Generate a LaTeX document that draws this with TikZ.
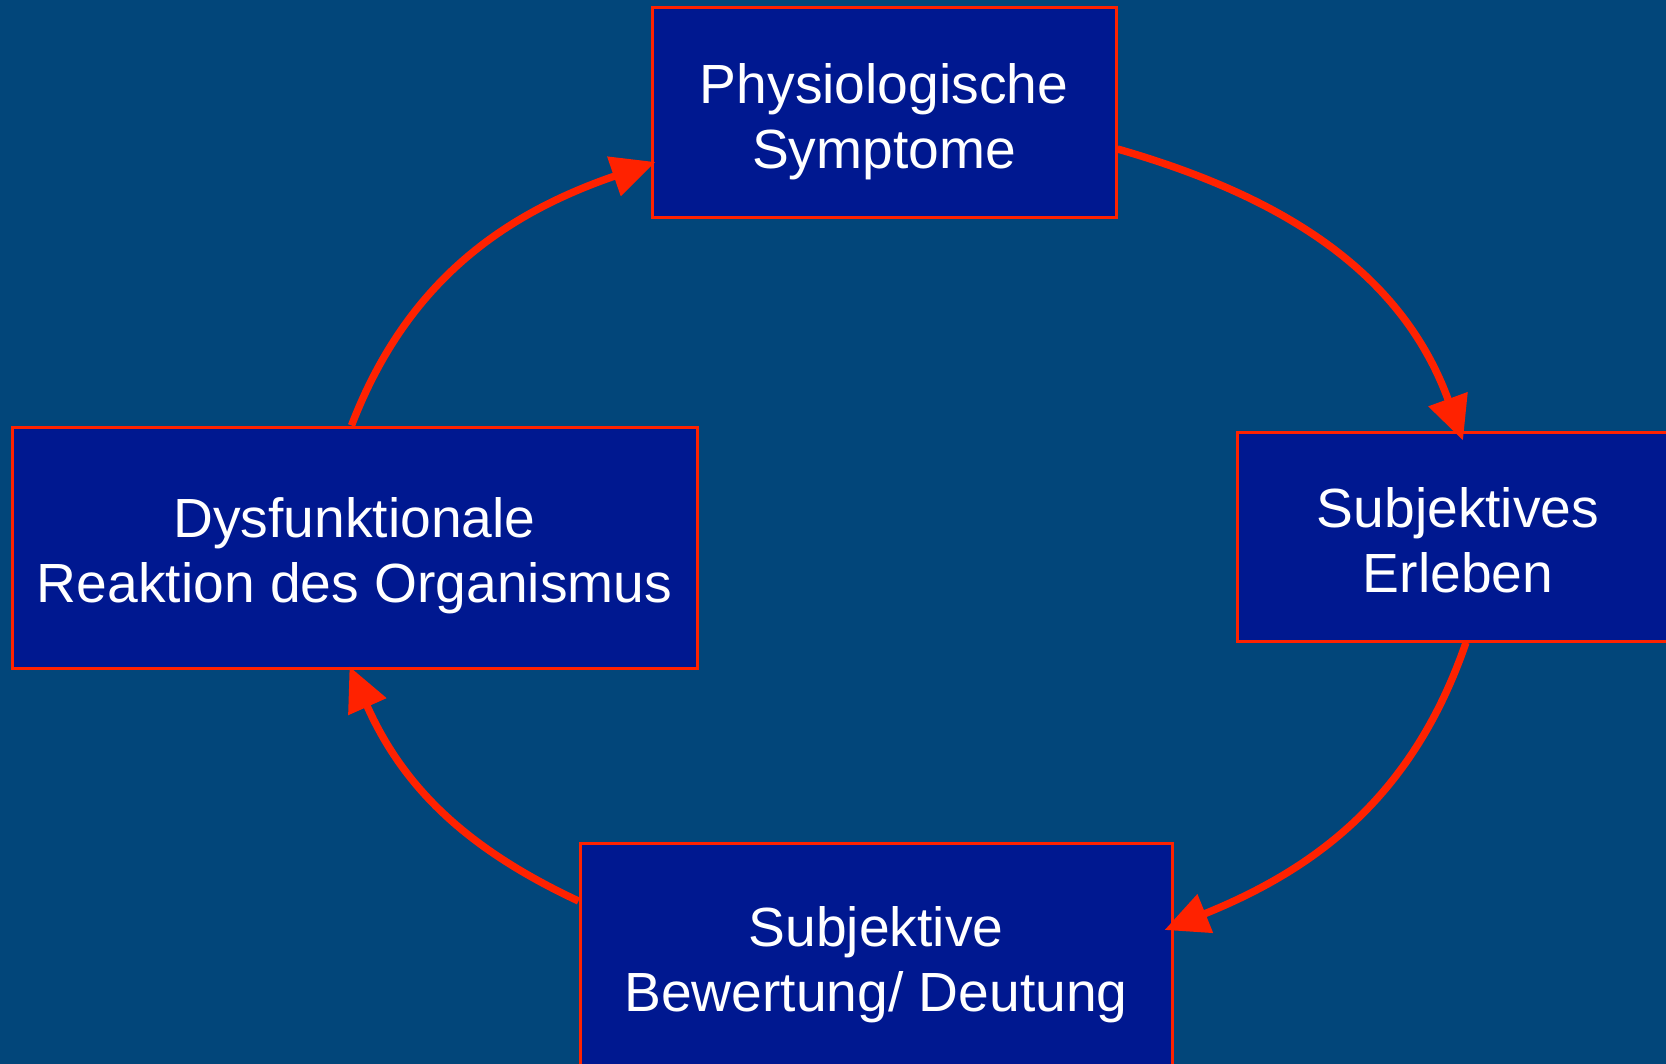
\documentclass[tikz,border=0pt]{standalone}
\usepackage{fontspec}
\setmainfont{Liberation Sans}
\usetikzlibrary{arrows.meta,calc}
\definecolor{bgblue}{HTML}{02467A}
\definecolor{boxblue}{HTML}{001890}
\definecolor{redline}{HTML}{FF2200}
\newcommand{\topstrut}[1]{\rule{0pt}{#1}}
\begin{document}
\begin{tikzpicture}[x=0.5pt,y=0.5pt,
  box/.style={draw=redline,line width=1.5pt,fill=boxblue,text=white,
    inner sep=0pt,align=center,font=\fontsize{27.6}{32.5}\selectfont},
  conn/.style={draw=redline,line width=3.7pt,-{Triangle[length=22pt,width=20pt]}}]
\useasboundingbox (0,0) rectangle (1666,-1064);
\fill[bgblue] (0,0) rectangle (1666,-1064);
\clip (0,0) rectangle (1666,-1064);
\node[box,minimum width=232pt,minimum height=105pt] (phys) at (884,-113) {\topstrut{28.6pt}Physiologische\\Symptome};
\node[box,minimum width=221pt,minimum height=104.5pt] (erleben) at (1458,-536.5) {\topstrut{23.3pt}Subjektives\\Erleben};
\node[box,minimum width=296pt,minimum height=117pt] (bewertung) at (876,-960) {\topstrut{24.4pt}Subjektive\\Bewertung/ Deutung};
\node[box,minimum width=342.5pt,minimum height=120.5pt] (reaktion) at (354.5,-547.5) {\topstrut{28.6pt}Dysfunktionale\\Reaktion des Organismus};
\draw[conn] ($(phys.east)+(0,-36)$) to[out=-16,in=110] ($(erleben.north)+(5,-10)$);
\draw[conn] ($(erleben.south)+(8,0)$) to[out=-109,in=22] ($(bewertung.east)+(-9,30)$);
\draw[conn] ($(bewertung.west)+(0,59)$) to[out=155,in=-66] ($(reaktion.south)+(-5,3)$);
\draw[conn] ($(reaktion.north)+(-3,0)$) to[out=69,in=199] ($(phys.west)+(5,-49)$);
\end{tikzpicture}
\end{document}
